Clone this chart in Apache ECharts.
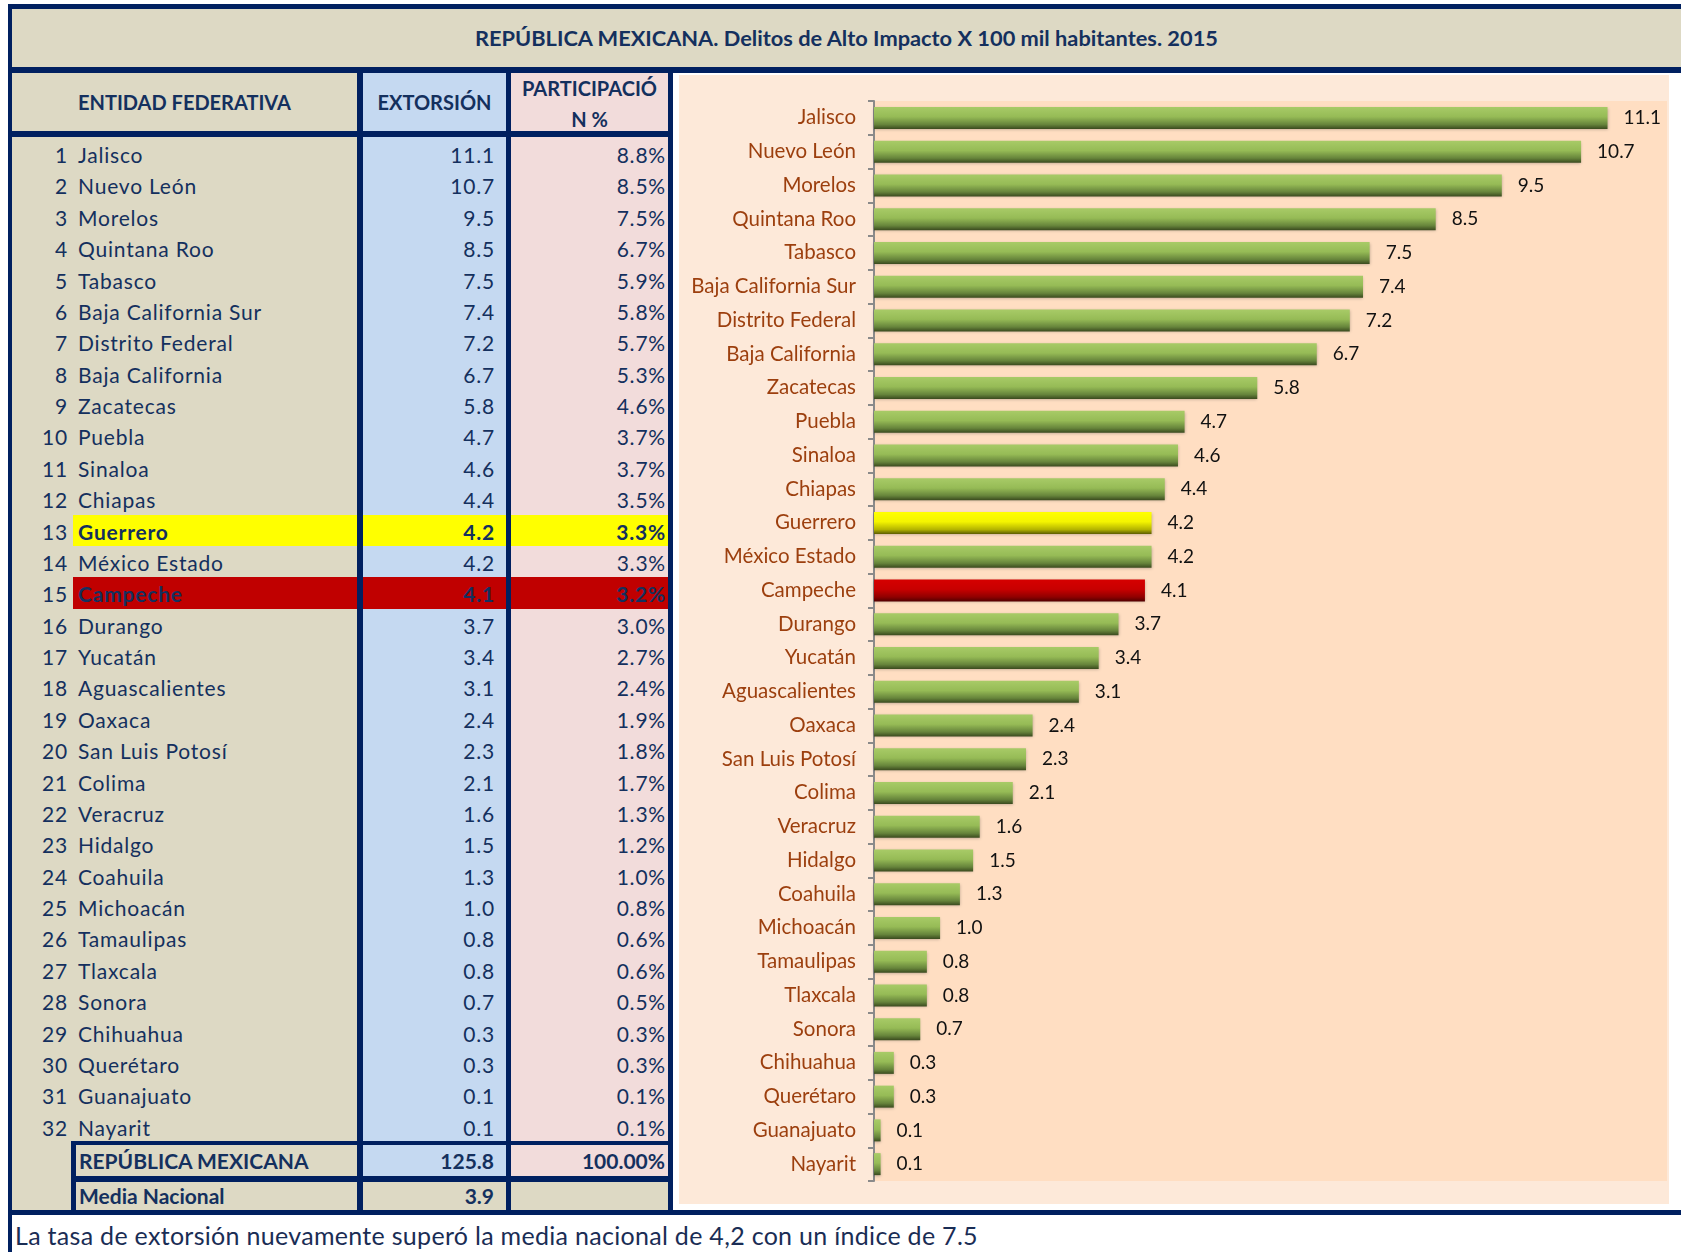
<!DOCTYPE html>
<html>
<head>
<meta charset="utf-8">
<title>Extorsión 2015</title>
<script src="https://cdn.jsdelivr.net/npm/echarts/dist/echarts.min.js"></script>
<style>
body { margin: 0; background: #fff; font-family: Lato, "Noto Sans", sans-serif; color: #14305e; }
#page { position: relative; width: 1681px; height: 1252px; overflow: hidden; }
.abs { position: absolute; box-sizing: border-box; white-space: nowrap; }
.navy { background: #002060; }
.tan { background: #ddd9c4; }
.azul { background: #c5d9f1; }
.rosa { background: #f2dcdb; }
.fila { font-size: 21px; letter-spacing: 0.8px; height: 31px; line-height: 31px; }
.b { font-weight: bold; }
</style>
</head>
<body>
<div id="page">
  <div class="abs navy" style="left:8px;top:4px;width:1673px;height:1211px"></div>
  <div class="abs navy" style="left:8px;top:1215px;width:4px;height:37px"></div>
  <div class="abs tan b" style="left:12px;top:9px;width:1669px;height:58px;line-height:58px;text-align:center;font-size:21.8px" id="titulo"></div>

  <div class="abs tan b" style="left:12px;top:73px;width:345px;height:58px;line-height:58px;text-align:center;font-size:20px">ENTIDAD FEDERATIVA</div>
  <div class="abs azul b" style="left:363px;top:73px;width:143px;height:58px;line-height:58px;text-align:center;font-size:20px">EXTORSIÓN</div>
  <div class="abs rosa b" style="left:511px;top:73px;width:157px;height:58px;line-height:31px;text-align:center;font-size:20px;overflow:hidden">PARTICIPACIÓ<br>N %</div>

  <div class="abs tan" style="left:12px;top:137px;width:345px;height:1073px"></div>
  <div class="abs azul" style="left:363px;top:137px;width:143px;height:1004px"></div>
  <div class="abs rosa" style="left:511px;top:137px;width:157px;height:1004px"></div>
  <div id="filas"></div>

  <div class="abs navy" style="left:71px;top:1141px;width:286px;height:74px"></div>
  <div class="abs tan b fila" style="left:76px;top:1145px;width:281px;padding-left:3px;letter-spacing:0">REPÚBLICA MEXICANA</div>
  <div class="abs azul b fila" style="left:363px;top:1145px;width:143px;text-align:right;padding-right:12px;letter-spacing:0" id="totalExt"></div>
  <div class="abs rosa b fila" style="left:511px;top:1145px;width:157px;text-align:right;padding-right:3px;letter-spacing:0">100.00%</div>
  <div class="abs tan b fila" style="left:76px;top:1182px;width:281px;height:28px;line-height:28px;padding-left:3px;letter-spacing:0">Media Nacional</div>
  <div class="abs tan b fila" style="left:363px;top:1182px;width:143px;height:28px;line-height:28px;text-align:right;padding-right:12px;letter-spacing:0" id="media"></div>
  <div class="abs tan" style="left:511px;top:1182px;width:157px;height:28px"></div>

  <div class="abs" style="left:673px;top:73px;width:1008px;height:1137px;background:#fff"></div>
  <div class="abs" id="main" style="left:679px;top:75px;width:990px;height:1129px"></div>

  <div class="abs" id="nota" style="left:15px;top:1218px;font-size:25px;letter-spacing:0.3px;line-height:34px;color:#1a2d55"></div>
</div>
<script>
var titulo = 'REPÚBLICA MEXICANA. Delitos de Alto Impacto X 100 mil habitantes. 2015';
var nota = 'La tasa de extorsión nuevamente superó la media nacional de 4,2 con un índice de 7.5';
var entidades = ['Jalisco', 'Nuevo León', 'Morelos', 'Quintana Roo', 'Tabasco', 'Baja California Sur',
    'Distrito Federal', 'Baja California', 'Zacatecas', 'Puebla', 'Sinaloa', 'Chiapas', 'Guerrero',
    'México Estado', 'Campeche', 'Durango', 'Yucatán', 'Aguascalientes', 'Oaxaca', 'San Luis Potosí',
    'Colima', 'Veracruz', 'Hidalgo', 'Coahuila', 'Michoacán', 'Tamaulipas', 'Tlaxcala', 'Sonora',
    'Chihuahua', 'Querétaro', 'Guanajuato', 'Nayarit'];
var extorsion = [11.1, 10.7, 9.5, 8.5, 7.5, 7.4, 7.2, 6.7, 5.8, 4.7, 4.6, 4.4, 4.2, 4.2, 4.1, 3.7,
    3.4, 3.1, 2.4, 2.3, 2.1, 1.6, 1.5, 1.3, 1.0, 0.8, 0.8, 0.7, 0.3, 0.3, 0.1, 0.1];
var participacion = [8.8, 8.5, 7.5, 6.7, 5.9, 5.8, 5.7, 5.3, 4.6, 3.7, 3.7, 3.5, 3.3, 3.3, 3.2, 3.0,
    2.7, 2.4, 1.9, 1.8, 1.7, 1.3, 1.2, 1.0, 0.8, 0.6, 0.6, 0.5, 0.3, 0.3, 0.1, 0.1];
var totalExtorsion = 125.8;
var mediaNacional = 3.9;
var amarillo = ['Guerrero'];
var rojo = ['Campeche'];

document.getElementById('titulo').textContent = titulo;
document.getElementById('nota').textContent = nota;
document.getElementById('totalExt').textContent = totalExtorsion.toFixed(1);
document.getElementById('media').textContent = mediaNacional.toFixed(1);

// filas de la tabla
var html = '';
var altoFila = 1004 / entidades.length;
for (var i = 0; i < entidades.length; i++) {
    var y = 137 + i * altoFila;
    var fondo = '';
    if (amarillo.indexOf(entidades[i]) >= 0) fondo = '#ffff00';
    if (rojo.indexOf(entidades[i]) >= 0) fondo = '#c00000';
    var peso = fondo ? 'font-weight:bold;' : '';
    if (fondo) {
        html += '<div class="abs" style="left:73px;top:' + (y + 1) + 'px;width:284px;height:' + altoFila + 'px;background:' + fondo + '"></div>';
        html += '<div class="abs" style="left:363px;top:' + (y + 1) + 'px;width:143px;height:' + altoFila + 'px;background:' + fondo + '"></div>';
        html += '<div class="abs" style="left:511px;top:' + (y + 1) + 'px;width:157px;height:' + altoFila + 'px;background:' + fondo + '"></div>';
    }
    y += 2;
    html += '<div class="abs fila" style="left:12px;top:' + y + 'px;width:56px;text-align:right">' + (i + 1) + '</div>';
    html += '<div class="abs fila" style="left:78px;top:' + y + 'px;' + peso + '">' + entidades[i] + '</div>';
    html += '<div class="abs fila" style="left:363px;top:' + y + 'px;width:143px;text-align:right;padding-right:11px;' + peso + '">' + extorsion[i].toFixed(1) + '</div>';
    html += '<div class="abs fila" style="left:511px;top:' + y + 'px;width:157px;text-align:right;padding-right:2px;' + peso + '">' + participacion[i].toFixed(1) + '%</div>';
}
document.getElementById('filas').innerHTML = html;

function degradado(c0, c1, c2, c3) {
    return new echarts.graphic.LinearGradient(0, 0, 0, 1, [
        {offset: 0, color: c0},
        {offset: 0.45, color: c1},
        {offset: 0.8, color: c2},
        {offset: 1, color: c3}
    ]);
}
var verde = degradado('#a8cb67', '#96bb56', '#66843b', '#3b4b1f');
var verdeAmarillo = degradado('#ffff00', '#f4f400', '#b4b400', '#5e5e00');
var verdeRojo = degradado('#d60000', '#c80000', '#900000', '#520000');

var myChart = echarts.init(document.getElementById('main'));
myChart.setOption({
    backgroundColor: '#fde9d9',
    animation: false,
    grid: {
        left: 195, right: 2, top: 26, bottom: 23,
        show: true, backgroundColor: '#ffdec2', borderWidth: 0
    },
    xAxis: {
        type: 'value', min: 0, max: 12, show: false
    },
    yAxis: {
        type: 'category',
        inverse: true,
        data: entidades,
        axisLine: {lineStyle: {color: '#8a8a8a', width: 2}},
        axisTick: {show: true, length: 6, lineStyle: {color: '#8a8a8a', width: 2}},
        axisLabel: {
            color: '#9c3f0e', fontSize: 20.5, fontFamily: 'Lato', margin: 18
        }
    },
    series: [{
        type: 'bar',
        data: extorsion,
        barWidth: 22,
        itemStyle: {
            color: function (params) {
                if (amarillo.indexOf(params.name) >= 0) return verdeAmarillo;
                if (rojo.indexOf(params.name) >= 0) return verdeRojo;
                return verde;
            },
            shadowColor: 'rgba(0,0,0,0.25)',
            shadowBlur: 3,
            shadowOffsetY: 1
        },
        label: {
            show: true,
            position: 'right',
            distance: 16,
            color: '#111',
            fontSize: 19,
            fontFamily: 'Lato',
            formatter: function (params) {
                return params.value.toFixed(1);
            }
        }
    }]
});
</script>
</body>
</html>
